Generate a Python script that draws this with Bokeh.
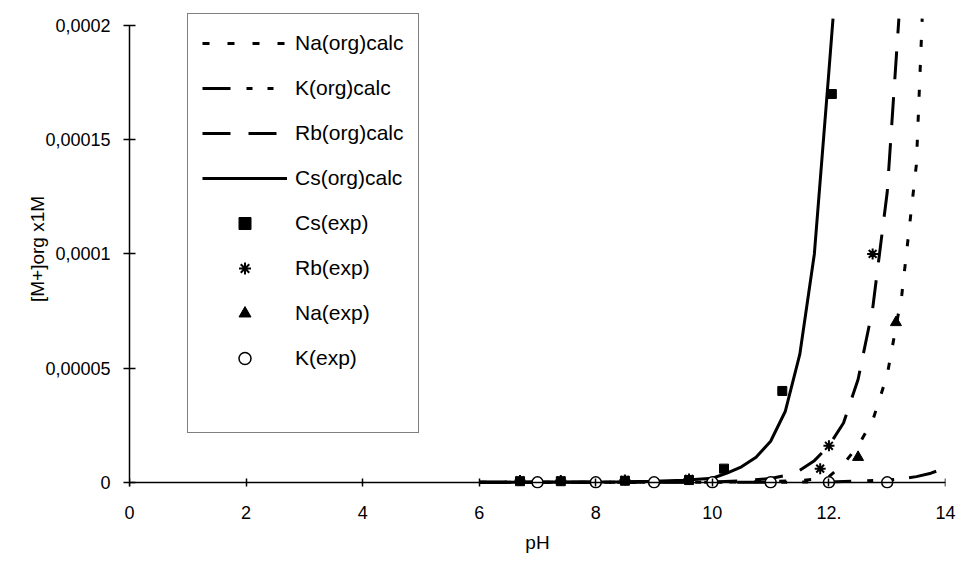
from bokeh.plotting import figure
from bokeh.models import Range1d, FixedTicker, CustomJSTickFormatter, Legend, LegendItem, LinearAxis
from bokeh.embed import file_html
from bokeh.resources import INLINE

# ---- data ----
na_calc_ph = [6.0, 7.0, 8.0, 9.0, 10.0, 10.5, 11.0, 11.5, 11.75, 12.0, 12.25, 12.5, 12.75, 13.0, 13.25, 13.5, 13.6]
na_calc = [0.0, 0.0, 0.0, 0.0, 0.0000001, 0.0000002, 0.0000004, 0.0000008, 0.0000013, 0.0000025, 0.000008,
           0.000016, 0.000027, 0.000047, 0.000082, 0.000139, 0.000203]

k_calc_ph = [6.0, 7.0, 8.0, 9.0, 10.0, 11.0, 12.0, 12.5, 13.0, 13.25, 13.5, 13.75, 14.0]
k_calc = [0.0, 0.0, 0.0, 0.0, 0.0, 0.0, 0.0000002, 0.0000005, 0.000001, 0.0000015, 0.0000025, 0.000004, 0.0000063]

rb_calc_ph = [6.0, 7.0, 8.0, 9.0, 10.0, 10.5, 11.0, 11.25, 11.5, 11.75, 12.0, 12.25, 12.5, 12.75, 13.0, 13.2]
rb_calc = [0.0, 0.0, 0.0, 0.0000001, 0.0000002, 0.0000006, 0.0000017, 0.000003, 0.0000053, 0.0000095, 0.000016,
           0.000026, 0.000045, 0.000076, 0.000127, 0.000203]

cs_calc_ph = [6.0, 6.5, 7.0, 7.5, 8.0, 8.5, 9.0, 9.5, 10.0, 10.25, 10.5, 10.75, 11.0, 11.25, 11.5, 11.75, 12.0, 12.07]
cs_calc = [0.0, 0.0, 0.0000001, 0.0000001, 0.0000002, 0.0000003, 0.0000005, 0.0000009, 0.0000018, 0.000004,
           0.0000068, 0.000011, 0.000018, 0.000031, 0.000056, 0.0001, 0.00018, 0.000203]

cs_exp_ph = [6.7, 7.4, 8.5, 9.6, 10.2, 11.2, 12.05]
cs_exp = [0.0000005, 0.0000005, 0.0000007, 0.000001, 0.000006, 0.00004, 0.00017]

rb_exp_ph = [6.7, 7.4, 8.5, 9.6, 11.85, 12.0, 12.75]
rb_exp = [0.0000008, 0.0000008, 0.000001, 0.0000015, 0.000006, 0.000016, 0.0001]

na_exp_ph = [12.5, 13.15]
na_exp = [0.000011, 0.00007]

k_exp_ph = [7, 8, 9, 10, 11, 12, 13]
k_exp = [0.0, 0.0, 0.0, 0.0, 0.0, 0.0, 0.0]

x_ticks = [0, 2, 4, 6, 8, 10, 12, 14]
x_tick_labels = ["0", "2", "4", "6", "8", "10", "12.", "14"]
y_ticks = [0, 0.00005, 0.0001, 0.00015, 0.0002]
y_tick_labels = ["0", "0,00005", "0,0001", "0,00015", "0,0002"]

FONT = "Liberation Sans"

p = figure(width=958, height=561, output_backend="svg", toolbar_location=None,
           x_range=Range1d(0, 14), y_range=Range1d(-0.0000027, 0.000207),
           min_border_left=129, min_border_right=13, min_border_top=9, min_border_bottom=73)
p.outline_line_color = None
p.grid.visible = False

na = p.line(na_calc_ph, na_calc, line_color="black", line_width=3, line_dash="7 18")
k = p.line(k_calc_ph, k_calc, line_color="black", line_width=3, line_dash="28 16 6 15 6 15")
rb = p.line(rb_calc_ph, rb_calc, line_color="black", line_width=3, line_dash="28 18")
cs = p.line(cs_calc_ph, cs_calc, line_color="black", line_width=3)

cs_m = p.scatter(cs_exp_ph, cs_exp, marker="square", size=9, fill_color="black", line_color="black")
rb_m = p.scatter(rb_exp_ph, rb_exp, marker="asterisk", size=11, line_color="black", line_width=2)
na_m = p.scatter(na_exp_ph, na_exp, marker="triangle", size=11, fill_color="black", line_color="black")
k_m = p.scatter(k_exp_ph, k_exp, marker="circle", size=11, fill_color="white", line_color="black", line_width=1.5)
blank = p.line([], [], line_alpha=0)

legend = Legend(items=[
    LegendItem(label="Na(org)calc", renderers=[na]),
    LegendItem(label="K(org)calc", renderers=[k]),
    LegendItem(label="Rb(org)calc", renderers=[rb]),
    LegendItem(label="Cs(org)calc", renderers=[cs]),
    LegendItem(label="Cs(exp)", renderers=[cs_m]),
    LegendItem(label="Rb(exp)", renderers=[rb_m]),
    LegendItem(label="Na(exp)", renderers=[na_m]),
    LegendItem(label="K(exp)", renderers=[k_m]),
    LegendItem(label=" ", renderers=[blank]),
], location=(58, 55))
legend.label_text_font = FONT
legend.label_text_font_size = "21px"
legend.label_text_color = "black"
legend.glyph_width = 85
legend.glyph_height = 30
legend.label_height = 30
legend.spacing = 15
legend.padding = 14
legend.label_standoff = 8
legend.margin = 0
legend.border_line_color = "black"
legend.border_line_width = 1.5
legend.background_fill_color = "white"
legend.background_fill_alpha = 1
p.add_layout(legend)

# bottom axis: labels only (drawn below the frame)
p.xaxis.ticker = FixedTicker(ticks=x_ticks)
p.xaxis.formatter = CustomJSTickFormatter(args=dict(tv=x_ticks, lab=x_tick_labels), code="""
const i = tv.findIndex(t => Math.abs(t - tick) < 1e-9);
return i >= 0 ? lab[i] : '';
""")
p.xaxis.axis_line_color = None
p.xaxis.major_tick_line_color = None
p.xaxis.minor_tick_line_color = None
p.xaxis.major_tick_in = 0
p.xaxis.major_tick_out = 0
p.xaxis.major_label_standoff = 17
p.xaxis.major_label_text_font = FONT
p.xaxis.major_label_text_font_size = "18px"
p.xaxis.major_label_text_color = "black"
p.xaxis.axis_label = "pH"
p.xaxis.axis_label_text_font = FONT
p.xaxis.axis_label_text_font_size = "19px"
p.xaxis.axis_label_text_font_style = "normal"
p.xaxis.axis_label_text_color = "black"
p.xaxis.axis_label_standoff = 10

# x axis line and ticks drawn at y = 0 (no labels of its own)
xline = LinearAxis(fixed_location=0, ticker=FixedTicker(ticks=x_ticks))
xline.axis_line_color = "black"
xline.axis_line_width = 1.5
xline.major_tick_line_color = "black"
xline.major_tick_line_width = 1.5
xline.minor_tick_line_color = None
xline.major_tick_in = 4
xline.major_tick_out = 4
xline.major_label_text_color = None
xline.major_label_text_alpha = 0
p.add_layout(xline, "below")

# y axis
p.yaxis.ticker = FixedTicker(ticks=y_ticks)
p.yaxis.formatter = CustomJSTickFormatter(args=dict(tv=y_ticks, lab=y_tick_labels), code="""
const i = tv.findIndex(t => Math.abs(t - tick) < 1e-12);
return i >= 0 ? lab[i] : '';
""")
p.yaxis.bounds = (-0.000002, 0.0002)
p.yaxis.axis_line_color = "black"
p.yaxis.axis_line_width = 1.5
p.yaxis.major_tick_line_color = "black"
p.yaxis.major_tick_line_width = 1.5
p.yaxis.minor_tick_line_color = None
p.yaxis.major_tick_in = 6
p.yaxis.major_tick_out = 6
p.yaxis.major_label_standoff = 13
p.yaxis.major_label_text_font = FONT
p.yaxis.major_label_text_font_size = "18px"
p.yaxis.major_label_text_color = "black"
p.yaxis.axis_label = "[M+]org x1M"
p.yaxis.axis_label_text_font = FONT
p.yaxis.axis_label_text_font_size = "19px"
p.yaxis.axis_label_text_font_style = "normal"
p.yaxis.axis_label_text_color = "black"
p.yaxis.axis_label_standoff = -6

open("out.html", "w").write(file_html(p, INLINE))
